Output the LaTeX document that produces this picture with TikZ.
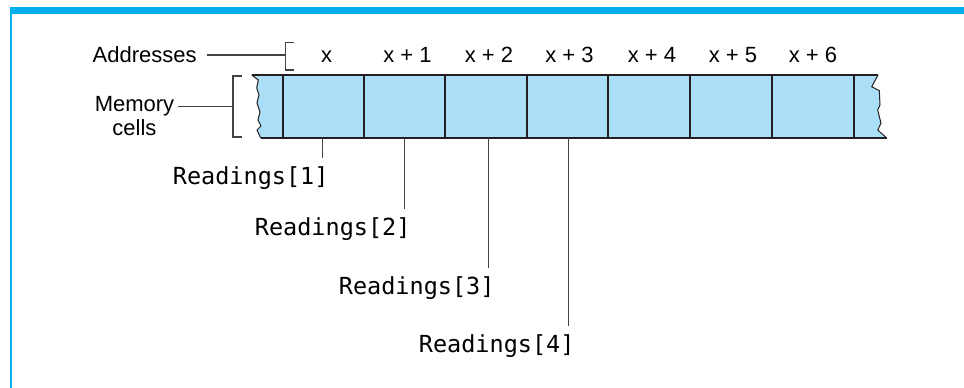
\documentclass[tikz,border=0pt]{standalone}
\usepackage{fontspec}
\setmainfont{Liberation Sans}
\newfontfamily\monof{DejaVu Sans Mono}
\definecolor{framecyan}{RGB}{0,174,239}
\definecolor{cellblue}{RGB}{171,223,248}
\definecolor{ink}{RGB}{35,31,32}
\begin{document}
\begin{tikzpicture}[x=1pt,y=-1pt,
  cellbox/.style={draw=ink,line width=1.8pt,minimum height=63pt,inner sep=0pt,outer sep=0pt,anchor=north west},
  addrlabel/.style={font=\fontsize{22}{26}\selectfont,inner sep=0pt,anchor=base},
  readlabel/.style={font=\monof\fontsize{23.5}{28}\selectfont,inner xsep=0pt,inner ysep=8.5pt,outer sep=0pt,anchor=base east},
  sidelabel/.style={font=\fontsize{22}{24}\selectfont,inner sep=0pt,outer sep=0pt,align=center},
  conn/.style={draw=ink!85,line width=1.2pt},
  edgeline/.style={draw=ink,line width=1pt,line join=miter},
]
\useasboundingbox (0,0) rectangle (964,388);
% frame
\fill[framecyan] (10,7) rectangle (964,14.3);
\draw[framecyan,line width=1.7pt] (10.85,14) -- (10.85,388);

% array fill with jagged ends
\fill[cellblue] (251.7,75) -- (878,75) -- (871.7,86.7) -- (879.3,90.7) -- (880,105) -- (877.7,110) -- (881,123.3) -- (877.7,130) -- (886.7,138)
  -- (260.7,138) -- (257,130) -- (261,126) -- (258,120) -- (260,112) -- (257,103) -- (259,95) -- (256.7,88) -- (258.3,80) -- cycle;
\draw[edgeline] (878,75) -- (871.7,86.7) -- (879.3,90.7) -- (880,105) -- (877.7,110) -- (881,123.3) -- (877.7,130) -- (886.7,138);
\draw[edgeline] (251.7,75) -- (258.3,80) -- (256.7,88) -- (259,95) -- (257,103) -- (260,112) -- (258,120) -- (261,126) -- (257,130) -- (260.7,138);
\draw[ink,line width=1.8pt] (251.7,75) -- (878,75);
\draw[ink,line width=1.8pt] (260.7,138) -- (886.7,138);

% cells (left edge, width)
\foreach \i/\l/\w in {1/283/81,2/364/81,3/445/82,4/527/81,5/608/82,6/690/82,7/772/82}
  \node[cellbox,minimum width=\w pt] (c\i) at (\l,75) {};

% address labels
\node[addrlabel] (a1) at ([xshift=3pt,yshift=12.7pt]c1.north) {x};
\node[addrlabel] (a2) at ([xshift=3pt,yshift=12.7pt]c2.north) {x + 1};
\node[addrlabel] (a3) at ([xshift=3pt,yshift=12.7pt]c3.north) {x + 2};
\node[addrlabel] (a4) at ([xshift=2pt,yshift=12.7pt]c4.north) {x + 3};
\node[addrlabel] (a5) at ([xshift=3pt,yshift=12.7pt]c5.north) {x + 4};
\node[addrlabel] (a6) at ([xshift=2pt,yshift=12.7pt]c6.north) {x + 5};
\node[addrlabel] (a7) at ([xshift=0pt,yshift=12.7pt]c7.north) {x + 6};

% Addresses label and bracket
\node[sidelabel,anchor=base west] (addr) at (92.7,62.3) {Addresses};
\coordinate (abr) at (285.7,55);
\draw[conn] (294,42.7) -- (285.7,42.7) -- (285.7,70) -- (294,70);
\draw[conn] ([xshift=10pt]addr.east |- abr) -- (abr);

% Memory cells label and bracket
\node[sidelabel,anchor=north] (mem) at (134.5,96.7) {Memory\\cells};
\coordinate (mbr) at (233,106.7);
\draw[conn] (242,76) -- (233,76) -- (233,137) -- (242,137);
\draw[conn] ([xshift=4pt]mem.north east |- mbr) -- (mbr);

% Readings labels and their connectors
\foreach \i/\dx/\yb in {1/-1/184,2/0/235,3/2.5/294.3,4/1/352.7}{
  \coordinate (p\i) at ([xshift=\dx pt]c\i.south);
  \node[readlabel] (r\i) at ([xshift=6pt]p\i |- 0,\yb) {Readings[\i]};
  \draw[conn] (p\i) -- (p\i |- r\i.north);
}
\end{tikzpicture}
\end{document}
